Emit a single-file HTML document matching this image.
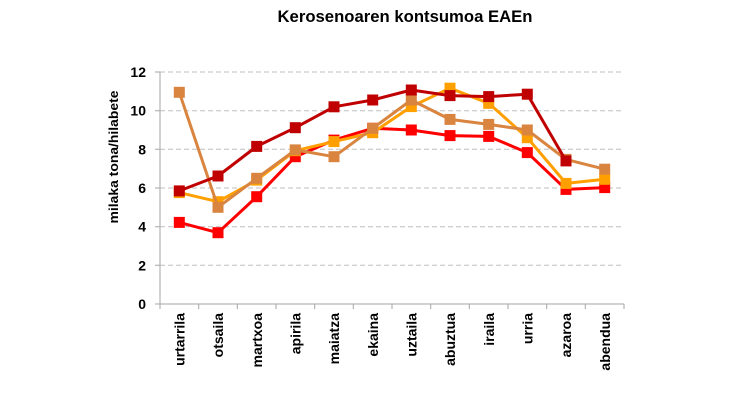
<!DOCTYPE html>
<html><head><meta charset="utf-8"><style>
html,body{margin:0;padding:0;background:#fff;}
svg{display:block;}
text{font-family:"Liberation Sans",sans-serif;}
</style></head><body>
<svg width="750" height="400" viewBox="0 0 750 400" xmlns="http://www.w3.org/2000/svg">
<text x="405" y="22" text-anchor="middle" font-size="17" font-weight="bold" fill="#000" textLength="255" lengthAdjust="spacingAndGlyphs">Kerosenoaren kontsumoa EAEn</text>
<g stroke="#BFBFBF" stroke-width="1" stroke-dasharray="5,3">
<line x1="160" y1="72" x2="624" y2="72"/>
<line x1="160" y1="110.7" x2="624" y2="110.7"/>
<line x1="160" y1="149.3" x2="624" y2="149.3"/>
<line x1="160" y1="188" x2="624" y2="188"/>
<line x1="160" y1="226.7" x2="624" y2="226.7"/>
<line x1="160" y1="265.3" x2="624" y2="265.3"/>
</g>
<g stroke="#A6A6A6" stroke-width="1" fill="none">
<line x1="160" y1="72" x2="160" y2="304"/>
<line x1="160" y1="304" x2="624" y2="304"/>
<path d="M155 72H160M155 110.7H160M155 149.3H160M155 188H160M155 226.7H160M155 265.3H160M155 304H160"/>
<path d="M160 304V309M198.7 304V309M237.3 304V309M276 304V309M314.7 304V309M353.3 304V309M392 304V309M430.7 304V309M469.3 304V309M508 304V309M546.7 304V309M585.3 304V309M624 304V309"/>
</g>
<g font-size="14" font-weight="bold" fill="#000" text-anchor="end">
<text x="146" y="77">12</text>
<text x="146" y="115.7">10</text>
<text x="146" y="154.3">8</text>
<text x="146" y="193">6</text>
<text x="146" y="231.7">4</text>
<text x="146" y="270.3">2</text>
<text x="146" y="309">0</text>
</g>
<text transform="translate(118,157) rotate(-90)" text-anchor="middle" font-size="13" font-weight="bold" fill="#000" textLength="133" lengthAdjust="spacingAndGlyphs">milaka tona/hilabete</text>
<g font-size="14" font-weight="bold" fill="#000" text-anchor="end">
<text transform="translate(184.5,313) rotate(-90)">urtarrila</text>
<text transform="translate(223.2,313) rotate(-90)">otsaila</text>
<text transform="translate(261.9,313) rotate(-90)">martxoa</text>
<text transform="translate(300.5,313) rotate(-90)">apirila</text>
<text transform="translate(339.2,313) rotate(-90)">maiatza</text>
<text transform="translate(377.9,313) rotate(-90)">ekaina</text>
<text transform="translate(416.5,313) rotate(-90)">uztaila</text>
<text transform="translate(455.2,313) rotate(-90)">abuztua</text>
<text transform="translate(493.9,313) rotate(-90)">iraila</text>
<text transform="translate(532.5,313) rotate(-90)">urria</text>
<text transform="translate(571.2,313) rotate(-90)">azaroa</text>
<text transform="translate(609.9,313) rotate(-90)">abendua</text>
</g>

<!-- red -->
<path d="M179.3 222.4L218 232.7L256.7 196.7L295.3 156.7L334 140.1L372.7 128.3L411.3 130L450 135.6L488.7 136.4L527.3 152.6L566 189.4L604.7 187.6" stroke="#FF0000" stroke-width="3" fill="none" stroke-linejoin="round"/>
<g fill="#FF0000">
<rect x="173.8" y="216.9" width="11" height="11"/>
<rect x="212.5" y="227.2" width="11" height="11"/>
<rect x="251.2" y="191.2" width="11" height="11"/>
<rect x="289.8" y="151.2" width="11" height="11"/>
<rect x="328.5" y="134.6" width="11" height="11"/>
<rect x="367.2" y="122.8" width="11" height="11"/>
<rect x="405.8" y="124.5" width="11" height="11"/>
<rect x="444.5" y="130.1" width="11" height="11"/>
<rect x="483.2" y="130.9" width="11" height="11"/>
<rect x="521.8" y="147.1" width="11" height="11"/>
<rect x="560.5" y="183.9" width="11" height="11"/>
<rect x="599.2" y="182.1" width="11" height="11"/>
</g>

<!-- orange -->
<path d="M179.3 192.6L218 201.7L256.7 180.1L295.3 150.7L334 141.6L372.7 132.7L411.3 106.6L450 88.2L488.7 103.3L527.3 137.7L566 183.4L604.7 179.3" stroke="#FFA000" stroke-width="3" fill="none" stroke-linejoin="round"/>
<g fill="#FFA000">
<rect x="173.8" y="187.1" width="11" height="11"/>
<rect x="212.5" y="196.2" width="11" height="11"/>
<rect x="251.2" y="174.6" width="11" height="11"/>
<rect x="289.8" y="145.2" width="11" height="11"/>
<rect x="328.5" y="136.1" width="11" height="11"/>
<rect x="367.2" y="127.2" width="11" height="11"/>
<rect x="405.8" y="101.1" width="11" height="11"/>
<rect x="444.5" y="82.7" width="11" height="11"/>
<rect x="483.2" y="97.8" width="11" height="11"/>
<rect x="521.8" y="132.2" width="11" height="11"/>
<rect x="560.5" y="177.9" width="11" height="11"/>
<rect x="599.2" y="173.8" width="11" height="11"/>
</g>

<!-- brown -->
<path d="M179.3 92.3L218 207.3L256.7 178.3L295.3 149.9L334 156.7L372.7 128.3L411.3 100L450 119.4L488.7 124.4L527.3 130L566 159.4L604.7 169.2" stroke="#D98540" stroke-width="3" fill="none" stroke-linejoin="round"/>
<g fill="#D98540">
<rect x="173.8" y="86.8" width="11" height="11"/>
<rect x="212.5" y="201.8" width="11" height="11"/>
<rect x="251.2" y="172.8" width="11" height="11"/>
<rect x="289.8" y="144.4" width="11" height="11"/>
<rect x="328.5" y="151.2" width="11" height="11"/>
<rect x="367.2" y="122.8" width="11" height="11"/>
<rect x="405.8" y="94.5" width="11" height="11"/>
<rect x="444.5" y="113.9" width="11" height="11"/>
<rect x="483.2" y="118.9" width="11" height="11"/>
<rect x="521.8" y="124.5" width="11" height="11"/>
<rect x="560.5" y="153.9" width="11" height="11"/>
<rect x="599.2" y="163.7" width="11" height="11"/>
</g>

<!-- dark red -->
<path d="M179.3 190.9L218 176L256.7 146.4L295.3 127.7L334 106.8L372.7 100L411.3 90L450 95.6L488.7 96.6L527.3 94.2L566 160.9" stroke="#C00000" stroke-width="3" fill="none" stroke-linejoin="round"/>
<g fill="#C00000">
<rect x="173.8" y="185.4" width="11" height="11"/>
<rect x="212.5" y="170.5" width="11" height="11"/>
<rect x="251.2" y="140.9" width="11" height="11"/>
<rect x="289.8" y="122.2" width="11" height="11"/>
<rect x="328.5" y="101.3" width="11" height="11"/>
<rect x="367.2" y="94.5" width="11" height="11"/>
<rect x="405.8" y="84.5" width="11" height="11"/>
<rect x="444.5" y="90.1" width="11" height="11"/>
<rect x="483.2" y="91.1" width="11" height="11"/>
<rect x="521.8" y="88.7" width="11" height="11"/>
<rect x="560.5" y="155.4" width="11" height="11"/>
</g>
</svg>
</body></html>
